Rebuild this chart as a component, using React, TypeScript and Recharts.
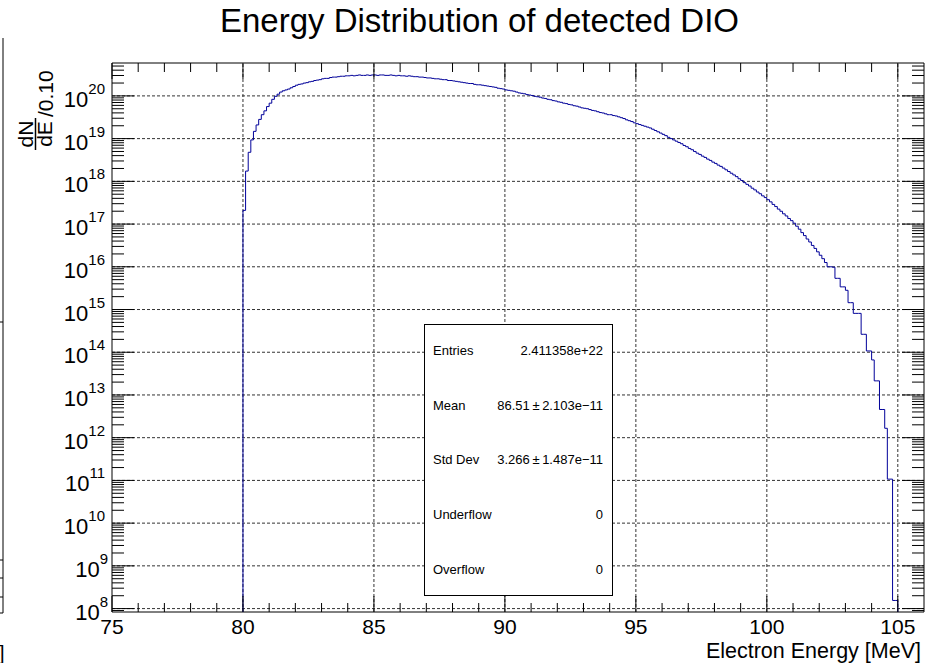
import { LineChart, Line, XAxis, YAxis, ReferenceLine, ReferenceArea } from "recharts";

// histogram: 0.1 MeV bins from 80.0 to 105.0, values as log10(dN/dE)
const BIN_START = 80;
const BIN_WIDTH = 0.1;
const BIN_END = 105;
const log10Counts = [
  17.32, 18.24, 18.68, 18.97, 19.17, 19.32, 19.45, 19.56, 19.65, 19.75,
  19.83, 19.92, 19.99, 20.04, 20.09, 20.12, 20.14, 20.16, 20.19, 20.22,
  20.25, 20.27, 20.28, 20.30, 20.31, 20.33, 20.34, 20.36, 20.37, 20.38,
  20.40, 20.41, 20.41, 20.43, 20.44, 20.44, 20.45, 20.46, 20.46, 20.47,
  20.47, 20.48, 20.47, 20.48, 20.49, 20.48, 20.48, 20.49, 20.48, 20.49,
  20.49, 20.48, 20.49, 20.49, 20.48, 20.48, 20.49, 20.48, 20.47, 20.48,
  20.47, 20.47, 20.46, 20.47, 20.46, 20.45, 20.45, 20.44, 20.44, 20.43,
  20.42, 20.42, 20.41, 20.40, 20.40, 20.39, 20.38, 20.38, 20.36, 20.36,
  20.35, 20.34, 20.33, 20.32, 20.31, 20.30, 20.29, 20.29, 20.27, 20.26,
  20.26, 20.25, 20.24, 20.23, 20.22, 20.21, 20.20, 20.18, 20.17, 20.16,
  20.14, 20.13, 20.12, 20.11, 20.09, 20.07, 20.06, 20.05, 20.03, 20.02,
  20.01, 19.99, 19.98, 19.97, 19.95, 19.94, 19.92, 19.91, 19.89, 19.88,
  19.86, 19.85, 19.83, 19.82, 19.80, 19.79, 19.77, 19.76, 19.74, 19.72,
  19.71, 19.70, 19.68, 19.66, 19.65, 19.63, 19.61, 19.60, 19.58, 19.56,
  19.56, 19.54, 19.53, 19.51, 19.49, 19.47, 19.44, 19.42, 19.40, 19.37,
  19.35, 19.33, 19.31, 19.29, 19.27, 19.25, 19.22, 19.19, 19.16, 19.13,
  19.10, 19.07, 19.03, 19.00, 18.97, 18.94, 18.91, 18.88, 18.84, 18.81,
  18.77, 18.74, 18.70, 18.66, 18.63, 18.59, 18.56, 18.52, 18.49, 18.45,
  18.42, 18.38, 18.35, 18.31, 18.27, 18.23, 18.19, 18.15, 18.11, 18.06,
  18.02, 17.97, 17.93, 17.89, 17.84, 17.80, 17.75, 17.71, 17.66, 17.62,
  17.57, 17.52, 17.46, 17.41, 17.35, 17.30, 17.24, 17.19, 17.13, 17.08,
  17.02, 16.95, 16.88, 16.80, 16.73, 16.65, 16.58, 16.50, 16.43, 16.35,
  16.27, 16.19, 16.10, 16.00, 16.00, 15.99, 15.73, 15.73, 15.53, 15.53,
  15.45, 15.16, 15.16, 14.91, 14.91, 14.91, 14.42, 14.42, 14.03, 14.03,
  13.82, 13.33, 13.33, 12.66, 12.66, 12.22, 11.03, 11.03, 8.19, 8.19,
];
const FLOOR = 1e6; // below the axis, histogram edges drop to the frame

const X_MAJOR = [75, 80, 85, 90, 95, 100, 105];
const X_TICKS = [75, 76, 77, 78, 79, 80, 81, 82, 83, 84, 85, 86, 87, 88, 89, 90, 91, 92, 93, 94, 95, 96, 97, 98, 99, 100, 101, 102, 103, 104, 105];
const DECADES = [8, 9, 10, 11, 12, 13, 14, 15, 16, 17, 18, 19, 20];
const MINOR_MULTS = [2, 3, 4, 5, 6, 7, 8, 9];

const statsRows = [
  ["Entries", "2.411358e+22"],
  ["Mean", "86.51\u2009\u00b1\u20092.103e\u221211"],
  ["Std Dev", "3.266\u2009\u00b1\u20091.487e\u221211"],
  ["Underflow", "0"],
  ["Overflow", "0"],
];

const W = 931;
const H = 663;
const PLOT = { left: 112, right: 924, top: 63, bottom: 612 };
const X_MIN = 75;
const X_MAX = 106;
const Y_MIN = 10 ** 7.92;
const Y_MAX = 10 ** 20.77;
const FONT = "'Liberation Sans', Arial, Helvetica, sans-serif";

const points = [
  { e: BIN_START, v: FLOOR },
  ...log10Counts.map((l, i) => ({ e: +(BIN_START + i * BIN_WIDTH).toFixed(1), v: 10 ** l })),
  { e: BIN_END, v: FLOOR },
];

const yTicks: number[] = [];
[7, ...DECADES].forEach((d) => {
  if (d >= 8) yTicks.push(10 ** d);
  MINOR_MULTS.forEach((m) => {
    const v = m * 10 ** d;
    if (v > Y_MIN && v < Y_MAX) yTicks.push(v);
  });
});
yTicks.sort((a, b) => a - b);

function XTick(props: any) {
  const { x, payload } = props;
  const major = X_MAJOR.includes(payload.value);
  const len = major ? 16 : 9;
  return (
    <g>
      <line x1={x} x2={x} y1={PLOT.bottom} y2={PLOT.bottom - len} stroke="#000" />
      <line x1={x} x2={x} y1={PLOT.top} y2={PLOT.top + len} stroke="#000" />
      {major && (
        <text x={x} y={634} textAnchor="middle" fontSize={21} fontFamily={FONT} fill="#000">
          {payload.value}
        </text>
      )}
    </g>
  );
}

function YTick(props: any) {
  const { y, payload } = props;
  const lg = Math.log10(payload.value);
  const exp = Math.round(lg);
  const major = Math.abs(lg - exp) < 1e-9;
  const len = major ? 22 : 12;
  return (
    <g>
      <line x1={PLOT.left} x2={PLOT.left + len} y1={y} y2={y} stroke="#000" />
      <line x1={PLOT.right} x2={PLOT.right - len} y1={y} y2={y} stroke="#000" />
      {major && (
        <text x={exp < 10 ? 108 : 105} y={y + 11} textAnchor="end" fontSize={22} fontFamily={FONT} fill="#000">
          10
          <tspan dy={-13} fontSize={15}>{exp}</tspan>
        </text>
      )}
    </g>
  );
}

export default function App() {
  return (
    <div style={{ position: "absolute", left: 0, top: 0, width: W, height: H, background: "#fff" }}>
      <LineChart width={W} height={H} data={points} margin={{ top: PLOT.top, right: W - PLOT.right, bottom: 0, left: 0 }}>
        <XAxis
          dataKey="e"
          type="number"
          domain={[X_MIN, X_MAX]}
          allowDataOverflow
          ticks={X_TICKS}
          interval={0}
          tickSize={0}
          tickMargin={0}
          axisLine={false}
          tickLine={false}
          tick={XTick}
          height={H - PLOT.bottom}
        />
        <YAxis
          type="number"
          scale="log"
          domain={[Y_MIN, Y_MAX]}
          allowDataOverflow
          ticks={yTicks}
          interval={0}
          tickSize={0}
          tickMargin={0}
          axisLine={false}
          tickLine={false}
          tick={YTick}
          width={PLOT.left}
        />
        {DECADES.map((d) => (
          <ReferenceLine key={"gy" + d} y={10 ** d} stroke="#333" strokeDasharray="3 2" />
        ))}
        {X_MAJOR.filter((v) => v > X_MIN).map((v) => (
          <ReferenceLine key={"gx" + v} x={v} stroke="#333" strokeDasharray="3 2" />
        ))}
        <ReferenceArea x1={X_MIN} x2={X_MAX} y1={Y_MIN} y2={Y_MAX} fill="none" stroke="#000" strokeWidth={1} fillOpacity={0} />
        <Line
          type="stepAfter"
          dataKey="v"
          stroke="#000099"
          strokeWidth={1}
          dot={false}
          activeDot={false}
          isAnimationActive={false}
        />
      </LineChart>

      <svg width={W} height={H} style={{ position: "absolute", left: 0, top: 0, pointerEvents: "none" }} fontFamily={FONT}>
        <text x={479.5} y={32} textAnchor="middle" fontSize={33} fill="#000">
          Energy Distribution of detected DIO
        </text>
        <text x={921} y={658} textAnchor="end" fontSize={21.5} fill="#000">
          Electron Energy [MeV]
        </text>

        <g transform="translate(0,148) rotate(-90)">
          <text x={14} y={33} textAnchor="middle" fontSize={21} fill="#000">dN</text>
          <line x1={-2} x2={30} y1={35.5} y2={35.5} stroke="#000" strokeWidth={1.5} />
          <text x={14} y={52} textAnchor="middle" fontSize={21} fill="#000">dE</text>
          <text x={31} y={53} fontSize={21} fill="#000">/0.10</text>
        </g>

        <rect x={424.5} y={324.5} width={188} height={271} fill="#fff" stroke="#000" />
        {statsRows.map((r, i) => (
          <g key={r[0]}>
            <text x={433} y={355 + i * 54.7} fontSize={13} fill="#000">{r[0]}</text>
            <text x={603} y={355 + i * 54.7} fontSize={13} textAnchor="end" fill="#000">{r[1]}</text>
          </g>
        ))}

        <line x1={3} x2={3} y1={38} y2={613} stroke="#000" />
        {[322, 560, 578, 597, 613].map((y) => (
          <line key={y} x1={0} x2={3} y1={y} y2={y} stroke="#000" />
        ))}
        <text x={-1} y={660} fontSize={20} fill="#000">]</text>
      </svg>
    </div>
  );
}
